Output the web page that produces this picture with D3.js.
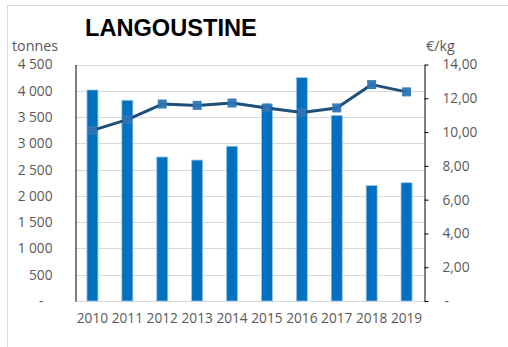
<!DOCTYPE html>
<html><head><meta charset="utf-8">
<script src="https://cdn.jsdelivr.net/npm/d3@7"></script>
<style>
html,body{margin:0;padding:0;background:#fff;}
svg{display:block;}
text{font-family:"Open Sans","Segoe UI",sans-serif;}
</style></head>
<body>
<svg id="chart" width="508" height="347"></svg>
<script>
const years = ["2010","2011","2012","2013","2014","2015","2016","2017","2018","2019"];
const tonnes = [4015, 3820, 2740, 2682, 2945, 3740, 4250, 3530, 2195, 2250];
const prices = [10.10, 10.74, 11.66, 11.58, 11.72, 11.43, 11.16, 11.43, 12.81, 12.38];
const leftTicks = [0, 500, 1000, 1500, 2000, 2500, 3000, 3500, 4000, 4500];
const rightTicks = [0, 2, 4, 6, 8, 10, 12, 14];

const svg = d3.select("#chart");
const L = 75, R = 424, T = 64.5, B = 301;

// outer frame
svg.append("rect").attr("x", 7.5).attr("y", 5.5).attr("width", 520).attr("height", 360)
  .attr("fill", "none").attr("stroke", "#d9d9d9").attr("stroke-width", 1);

const x = d3.scaleBand().domain(years).range([L, R]).paddingInner(0.685).paddingOuter(0.3425);
const yL = d3.scaleLinear().domain([0, 4500]).range([B, T]);
const yR = d3.scaleLinear().domain([0, 14]).range([B, T]);

// gridlines
svg.append("g").selectAll("line").data(leftTicks).join("line")
  .attr("x1", L).attr("x2", R)
  .attr("y1", d => Math.round(yL(d)) + 0.5).attr("y2", d => Math.round(yL(d)) + 0.5)
  .attr("stroke", "#d9d9d9").attr("stroke-width", 1);

// left axis
const fmtL = d => d === 0 ? "-" : d3.format(",")(d).replace(/,/g, " ");
const gL = svg.append("g").attr("transform", `translate(${L + 0.5},0)`)
  .call(d3.axisLeft(yL).tickValues(leftTicks).tickSize(0).tickPadding(23).tickFormat(fmtL));
gL.select(".domain").attr("stroke", "#000").attr("stroke-width", 1);
gL.selectAll("text").attr("fill", "#595959").style("font-size", "13.7px")
  .attr("dx", d => d === 0 ? -9 : 0);

// right axis
const fmtR = d => d === 0 ? "-" : d3.format(".2f")(d).replace(".", ",");
const gR = svg.append("g").attr("transform", `translate(${R + 0.5},0)`)
  .call(d3.axisRight(yR).tickValues(rightTicks).tickSize(4).tickSizeOuter(0).tickPadding(14).tickFormat(fmtR));
gR.select(".domain").attr("stroke", "#000").attr("stroke-width", 1);
gR.selectAll(".tick line").attr("stroke", "#000");
gR.selectAll("text").attr("fill", "#595959").style("font-size", "13.7px")
  .attr("dx", d => d === 0 ? 2 : 0);

// x axis labels
const gX = svg.append("g").attr("transform", `translate(0,${B})`)
  .call(d3.axisBottom(x).tickSize(0).tickPadding(12));
gX.select(".domain").remove();
gX.selectAll("text").attr("fill", "#595959").style("font-size", "13.7px");

// bars
svg.append("g").selectAll("rect").data(years).join("rect")
  .attr("x", (d) => x(d)).attr("width", x.bandwidth())
  .attr("y", (d, i) => yL(tonnes[i])).attr("height", (d, i) => B - yL(tonnes[i]))
  .attr("fill", "#0070C0").attr("stroke", "#9dc3e6").attr("stroke-width", 0.8);

// line
const cx = d => x(d) + x.bandwidth() / 2;
const line = d3.line().x((d, i) => cx(years[i])).y(d => yR(d));
svg.append("path").datum(prices).attr("d", line)
  .attr("fill", "none").attr("stroke", "#1F4E79").attr("stroke-width", 3).attr("stroke-linejoin", "round");
svg.append("g").selectAll("rect").data(prices).join("rect")
  .attr("x", (d, i) => cx(years[i]) - 4.5).attr("y", d => yR(d) - 4.5)
  .attr("width", 9).attr("height", 9)
  .attr("fill", "#2E75B6").attr("fill-opacity", 0.95);

// titles
svg.append("text").attr("x", 85).attr("y", 36).text("LANGOUSTINE")
  .style("font-family", "'Liberation Sans', Arial, sans-serif").style("font-weight", "bold")
  .style("font-size", "23.6px").attr("fill", "#000");
svg.append("text").attr("x", 12).attr("y", 51).text("tonnes")
  .style("font-size", "14.3px").attr("fill", "#595959");
svg.append("text").attr("x", 426).attr("y", 51).text("€/kg")
  .style("font-size", "14.3px").attr("fill", "#595959");
</script>
</body></html>
